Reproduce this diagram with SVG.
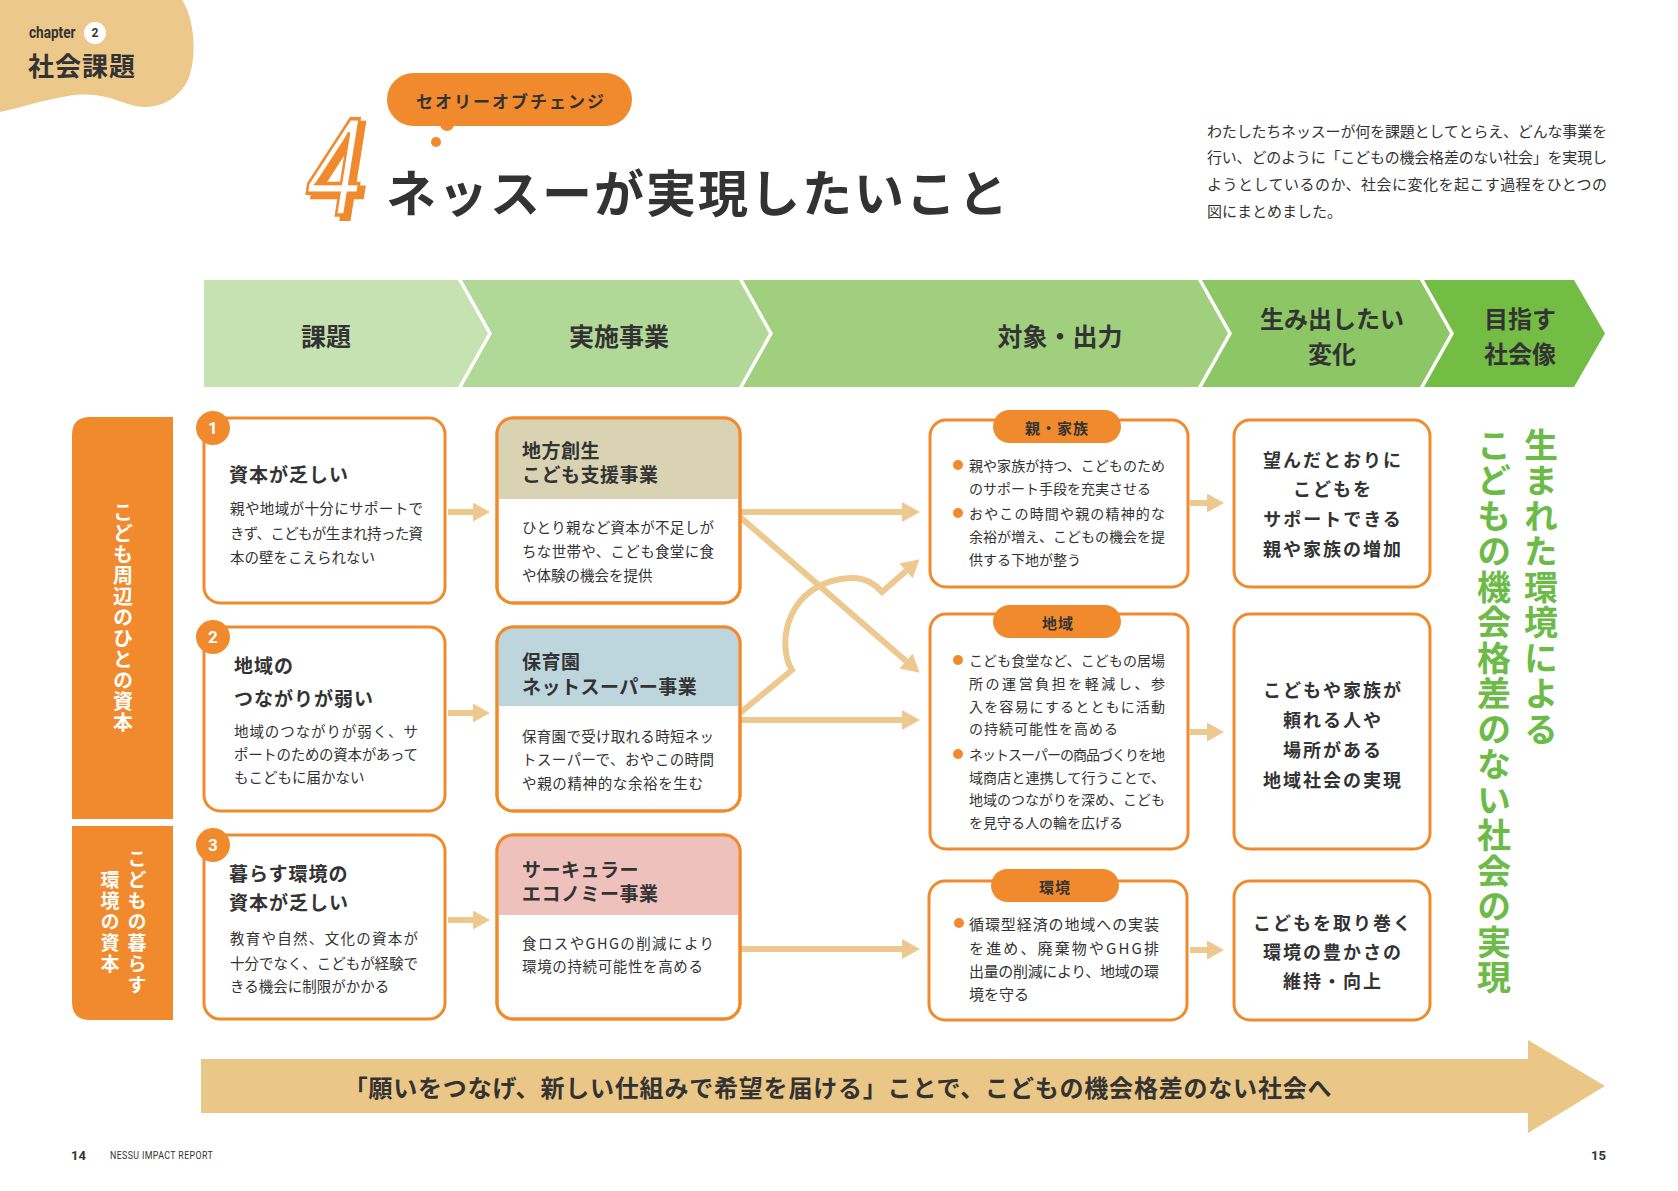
<svg xmlns="http://www.w3.org/2000/svg" width="1678" height="1191" viewBox="0 0 1678 1191">
<style>
text { font-family: "Noto Sans CJK JP", "Noto Sans", sans-serif; fill: #333333; }
.hd { font-size: 25px; font-weight: 700; text-anchor: middle; dominant-baseline: central; }
.box { fill: #ffffff; stroke: #F18A2C; stroke-width: 3; }
.frame { fill: none; stroke: #F18A2C; stroke-width: 3; }
.body { font-size: 14.5px; dominant-baseline: central; }
.t1 { font-size: 19px; font-weight: 700; dominant-baseline: central; letter-spacing: 1px; }
.c3 { font-size: 14px; dominant-baseline: central; }
.c4 { font-size: 18px; font-weight: 700; text-anchor: middle; dominant-baseline: central; letter-spacing: 2px; }
.pill { fill: #F18A2C; }
.pt { font-size: 15px; font-weight: 700; text-anchor: middle; dominant-baseline: central; letter-spacing: 1px; }
.dot { fill: #F18A2C; }
.con { fill: none; stroke: #EDC98F; stroke-width: 6; }
.num { fill: #F18A2C; }
.nt { fill: #ffffff; font-family: "Roboto", "Liberation Sans", sans-serif; font-weight: 700; font-size: 17px; text-anchor: middle; dominant-baseline: central; }
.vt { writing-mode: vertical-rl; text-orientation: upright; }
.side { fill: #F18A2C; }
.sidet { fill: #ffffff; font-weight: 700; }
.green { fill: #6CBB47; font-size: 34px; font-weight: 700; letter-spacing: 1.5px; }
</style>
<defs>
<marker id="ah" markerUnits="userSpaceOnUse" markerWidth="18" markerHeight="20" viewBox="0 0 18 20" refX="0" refY="10" orient="auto">
<path d="M0,0 L18,10 L0,20 Z" fill="#EDC98F"/>
</marker>
<marker id="ahs" markerUnits="userSpaceOnUse" markerWidth="17" markerHeight="19" viewBox="0 0 17 19" refX="0" refY="9.5" orient="auto">
<path d="M0,0 L17,9.5 L0,19 Z" fill="#EDC98F"/>
</marker>
</defs>

<!-- page header -->
<g id="chapter">
<path d="M0,0 H182 C194,18 198,55 188,80 C176,104 150,112 128,104 C108,97 92,92 68,96 C42,100 20,108 0,112 Z" fill="#EDC88B"/>
<text x="29" y="33" transform="translate(29 0) scale(0.85 1) translate(-29 0)" style="font-family: Roboto, 'Liberation Sans', sans-serif; font-size: 16px; font-weight: 700; dominant-baseline: central;">chapter</text>
<circle cx="95" cy="33" r="11" fill="#ffffff"/>
<text x="95" y="33" style="font-family: Roboto, 'Liberation Sans', sans-serif; font-size: 12px; font-weight: 700; text-anchor: middle; dominant-baseline: central;">2</text>
<text x="28" y="64" style="font-size: 26px; font-weight: 700; dominant-baseline: central; letter-spacing: 1px;">社会課題</text>
</g>

<g id="title">
<rect x="387" y="73" width="245" height="53" rx="26.5" fill="#F18A2C"/>
<circle cx="447" cy="124" r="7" fill="#F18A2C"/>
<circle cx="436" cy="142" r="5" fill="#F18A2C"/>
<text x="511" y="100" style="font-size: 17px; font-weight: 700; text-anchor: middle; dominant-baseline: central; letter-spacing: 2px;">セオリーオブチェンジ</text>
<text x="0" y="0" transform="translate(306 219) skewX(-9) scale(0.72 1)" style="font-family: 'Liberation Sans', sans-serif; font-size: 140px; fill: #F18A2C; stroke: #F18A2C; stroke-width: 4;">4</text>
<text x="0" y="0" transform="translate(301 215) skewX(-9) scale(0.72 1)" style="font-family: 'Liberation Sans', sans-serif; font-size: 140px; fill: #ffffff; stroke: #F18A2C; stroke-width: 3.5;">4</text>
<text x="386" y="190" style="font-size: 50px; font-weight: 700; dominant-baseline: central; letter-spacing: 2px;">ネッスーが実現したいこと</text>
</g>

<g id="description">
<text x="1207" y="130" class="body" style="font-size: 15px;" textLength="400" lengthAdjust="spacing">わたしたちネッスーが何を課題としてとらえ、どんな事業を</text>
<text x="1207" y="156" class="body" style="font-size: 15px;" textLength="400" lengthAdjust="spacing">行い、どのように「こどもの機会格差のない社会」を実現し</text>
<text x="1207" y="183" class="body" style="font-size: 15px;" textLength="400" lengthAdjust="spacing">ようとしているのか、社会に変化を起こす過程をひとつの</text>
<text x="1207" y="210" class="body" style="font-size: 15px;">図にまとめました。</text>
</g>

<!-- column header chevrons -->
<g id="header-kadai">
<polygon points="204,280 458,280 488,333.5 458,387 204,387" fill="#C6E2B0"/>
<text x="326" y="335" class="hd">課題</text>
</g>
<g id="header-jigyo">
<polygon points="462,280 739,280 769,333.5 739,387 462,387 492,333.5" fill="#B2D898"/>
<text x="619" y="335" class="hd">実施事業</text>
</g>
<g id="header-taisho">
<polygon points="743,280 1198,280 1228,333.5 1198,387 743,387 773,333.5" fill="#A0CF7E"/>
<text x="1060" y="335" class="hd">対象・出力</text>
</g>
<g id="header-henka">
<polygon points="1202,280 1420,280 1450,333.5 1420,387 1202,387 1232,333.5" fill="#8CC665"/>
<text x="1332" y="317" class="hd" style="font-size: 24px;">生み出したい</text>
<text x="1332" y="352" class="hd" style="font-size: 24px;">変化</text>
</g>
<g id="header-shakai">
<polygon points="1424,280 1574,280 1605,333.5 1574,387 1424,387 1454,333.5" fill="#73BD44"/>
<text x="1520" y="317" class="hd" style="font-size: 24px;">目指す</text>
<text x="1520" y="352" class="hd" style="font-size: 24px;">社会像</text>
</g>

<!-- side bars -->
<g id="side-hito">
<path d="M72,819 V435 Q72,417 90,417 H173 V819 Z" class="side"/>
<text x="123" y="618" class="vt sidet" style="font-size: 20px; text-anchor: middle; letter-spacing: 1px;">こども周辺のひとの資本</text>
</g>
<g id="side-kankyo">
<path d="M72,826 H173 V1020 H90 Q72,1020 72,1002 Z" class="side"/>
<text x="137" y="923" class="vt sidet" style="font-size: 19px; text-anchor: middle; letter-spacing: 2px;">こどもの暮らす</text>
<text x="110" y="923" class="vt sidet" style="font-size: 19px; text-anchor: middle; letter-spacing: 2px;">環境の資本</text>
</g>

<!-- connectors -->
<g id="connectors">
<path d="M448,512 H473" class="con" stroke-width="7" marker-end="url(#ahs)"/>
<path d="M448,713 H473" class="con" stroke-width="7" marker-end="url(#ahs)"/>
<path d="M448,920 H473" class="con" stroke-width="7" marker-end="url(#ahs)"/>
<path d="M740,512 H902" class="con" marker-end="url(#ah)"/>
<path d="M740,517 L906,661" class="con" marker-end="url(#ah)"/>
<path d="M740,713 L792,670 C776,645 786,582 850,578 C866,577 876,585 882,592 L906,571" class="con" marker-end="url(#ah)"/>
<path d="M740,720 H902" class="con" marker-end="url(#ah)"/>
<path d="M740,949 H902" class="con" marker-end="url(#ah)"/>
<path d="M1190,503 H1207" class="con" stroke-width="7" marker-end="url(#ahs)"/>
<path d="M1190,732 H1207" class="con" stroke-width="7" marker-end="url(#ahs)"/>
<path d="M1190,950 H1207" class="con" stroke-width="7" marker-end="url(#ahs)"/>
</g>

<!-- column 1: issues -->
<g id="issue-1">
<rect x="204" y="418" width="241" height="185" rx="16" class="box"/>
<circle cx="213" cy="428" r="17" class="num"/>
<text x="213" y="428" class="nt">1</text>
<text x="229" y="473" class="t1">資本が乏しい</text>
<text x="230" y="507" class="body" textLength="193" lengthAdjust="spacing">親や地域が十分にサポートで</text>
<text x="230" y="532" class="body" textLength="193" lengthAdjust="spacing">きず、こどもが生まれ持った資</text>
<text x="230" y="556" class="body">本の壁をこえられない</text>
</g>
<g id="issue-2">
<rect x="204" y="627" width="241" height="184" rx="16" class="box"/>
<circle cx="213" cy="637" r="17" class="num"/>
<text x="213" y="637" class="nt">2</text>
<text x="234" y="664" class="t1">地域の</text>
<text x="234" y="697" class="t1">つながりが弱い</text>
<text x="234" y="730" class="body" textLength="184" lengthAdjust="spacing">地域のつながりが弱く、サ</text>
<text x="234" y="753" class="body" textLength="184" lengthAdjust="spacing">ポートのための資本があって</text>
<text x="234" y="776" class="body">もこどもに届かない</text>
</g>
<g id="issue-3">
<rect x="204" y="835" width="241" height="184" rx="16" class="box"/>
<circle cx="213" cy="845" r="17" class="num"/>
<text x="213" y="845" class="nt">3</text>
<text x="229" y="872" class="t1">暮らす環境の</text>
<text x="229" y="901" class="t1">資本が乏しい</text>
<text x="230" y="937" class="body" textLength="188" lengthAdjust="spacing">教育や自然、文化の資本が</text>
<text x="230" y="962" class="body" textLength="188" lengthAdjust="spacing">十分でなく、こどもが経験で</text>
<text x="230" y="985" class="body">きる機会に制限がかかる</text>
</g>

<!-- column 2: programs -->
<g id="program-chiho">
<rect x="497" y="418" width="243" height="185" rx="16" class="box"/>
<path d="M497,499 V434 A16,16 0 0 1 513,418 H724 A16,16 0 0 1 740,434 V499 Z" fill="#D9D3B3"/>
<rect x="497" y="418" width="243" height="185" rx="16" class="frame"/>
<text x="522" y="449" class="t1" style="letter-spacing: 0.5px;">地方創生</text>
<text x="522" y="473" class="t1" style="letter-spacing: 0.5px;">こども支援事業</text>
<text x="522" y="526" class="body" textLength="192" lengthAdjust="spacing">ひとり親など資本が不足しが</text>
<text x="522" y="550" class="body" textLength="192" lengthAdjust="spacing">ちな世帯や、こども食堂に食</text>
<text x="522" y="574" class="body">や体験の機会を提供</text>
</g>
<g id="program-hoikuen">
<rect x="497" y="627" width="243" height="184" rx="16" class="box"/>
<path d="M497,706 V643 A16,16 0 0 1 513,627 H724 A16,16 0 0 1 740,643 V706 Z" fill="#BDD6DD"/>
<rect x="497" y="627" width="243" height="184" rx="16" class="frame"/>
<text x="522" y="660" class="t1" style="letter-spacing: 0.5px;">保育園</text>
<text x="522" y="685" class="t1" style="letter-spacing: 0.5px;">ネットスーパー事業</text>
<text x="522" y="735" class="body" textLength="192" lengthAdjust="spacing">保育園で受け取れる時短ネッ</text>
<text x="522" y="758" class="body" textLength="192" lengthAdjust="spacing">トスーパーで、おやこの時間</text>
<text x="522" y="782" class="body" textLength="181" lengthAdjust="spacing">や親の精神的な余裕を生む</text>
</g>
<g id="program-circular">
<rect x="497" y="835" width="243" height="184" rx="16" class="box"/>
<path d="M497,915 V851 A16,16 0 0 1 513,835 H724 A16,16 0 0 1 740,851 V915 Z" fill="#EEC1BC"/>
<rect x="497" y="835" width="243" height="184" rx="16" class="frame"/>
<text x="522" y="868" class="t1" style="letter-spacing: 0.5px;">サーキュラー</text>
<text x="522" y="892" class="t1" style="letter-spacing: 0.5px;">エコノミー事業</text>
<text x="522" y="942" class="body" textLength="192" lengthAdjust="spacing">食ロスやGHGの削減により</text>
<text x="522" y="965" class="body" textLength="181" lengthAdjust="spacing">環境の持続可能性を高める</text>
</g>

<!-- column 3: targets / outputs -->
<g id="output-family">
<rect x="930" y="420" width="258" height="167" rx="16" class="box"/>
<rect x="993" y="410" width="128" height="33" rx="16.5" class="pill"/>
<text x="1057" y="427" class="pt">親・家族</text>
<circle cx="958" cy="465" r="5" class="dot"/>
<text x="969" y="465" class="c3" textLength="196" lengthAdjust="spacing">親や家族が持つ、こどものため</text>
<text x="969" y="488" class="c3">のサポート手段を充実させる</text>
<circle cx="958" cy="513" r="5" class="dot"/>
<text x="969" y="513" class="c3" textLength="196" lengthAdjust="spacing">おやこの時間や親の精神的な</text>
<text x="969" y="536" class="c3" textLength="196" lengthAdjust="spacing">余裕が増え、こどもの機会を提</text>
<text x="969" y="559" class="c3">供する下地が整う</text>
</g>
<g id="output-region">
<rect x="930" y="614" width="258" height="235" rx="16" class="box"/>
<rect x="993" y="605" width="128" height="33" rx="16.5" class="pill"/>
<text x="1058" y="622" class="pt">地域</text>
<circle cx="958" cy="660" r="5" class="dot"/>
<text x="969" y="660" class="c3" textLength="196" lengthAdjust="spacing">こども食堂など、こどもの居場</text>
<text x="969" y="683" class="c3" textLength="196" lengthAdjust="spacing">所の運営負担を軽減し、参</text>
<text x="969" y="706" class="c3" textLength="196" lengthAdjust="spacing">入を容易にするとともに活動</text>
<text x="969" y="728" class="c3" style="letter-spacing: 1px;">の持続可能性を高める</text>
<circle cx="958" cy="754" r="5" class="dot"/>
<text x="969" y="754" class="c3" textLength="196" lengthAdjust="spacing">ネットスーパーの商品づくりを地</text>
<text x="969" y="777" class="c3" textLength="196" lengthAdjust="spacing">域商店と連携して行うことで、</text>
<text x="969" y="799" class="c3" textLength="196" lengthAdjust="spacing">地域のつながりを深め、こども</text>
<text x="969" y="822" class="c3">を見守る人の輪を広げる</text>
</g>
<g id="output-environment">
<rect x="929" y="881" width="258" height="139" rx="16" class="box"/>
<rect x="991" y="869" width="128" height="33" rx="16.5" class="pill"/>
<text x="1055" y="886" class="pt">環境</text>
<circle cx="959" cy="923" r="5" class="dot"/>
<text x="969" y="923" class="c3" style="font-size: 15px;" textLength="190" lengthAdjust="spacing">循環型経済の地域への実装</text>
<text x="969" y="947" class="c3" style="font-size: 15px;" textLength="190" lengthAdjust="spacing">を進め、廃棄物やGHG排</text>
<text x="969" y="970" class="c3" style="font-size: 15px;" textLength="190" lengthAdjust="spacing">出量の削減により、地域の環</text>
<text x="969" y="993" class="c3" style="font-size: 15px;">境を守る</text>
</g>

<!-- column 4: changes -->
<g id="change-family">
<rect x="1234" y="420" width="196" height="167" rx="16" class="box"/>
<text x="1333" y="459" class="c4">望んだとおりに</text>
<text x="1333" y="488" class="c4">こどもを</text>
<text x="1333" y="518" class="c4">サポートできる</text>
<text x="1333" y="548" class="c4">親や家族の増加</text>
</g>
<g id="change-region">
<rect x="1234" y="614" width="196" height="235" rx="16" class="box"/>
<text x="1333" y="689" class="c4">こどもや家族が</text>
<text x="1333" y="719" class="c4">頼れる人や</text>
<text x="1333" y="749" class="c4">場所がある</text>
<text x="1333" y="779" class="c4">地域社会の実現</text>
</g>
<g id="change-environment">
<rect x="1234" y="881" width="196" height="139" rx="16" class="box"/>
<text x="1333" y="922" class="c4">こどもを取り巻く</text>
<text x="1333" y="951" class="c4">環境の豊かさの</text>
<text x="1333" y="980" class="c4">維持・向上</text>
</g>

<!-- column 5: vision -->
<g id="vision">
<text x="1541" y="428" class="vt green">生まれた環境による</text>
<text x="1494" y="428" class="vt green">こどもの機会格差のない社会の実現</text>
</g>

<!-- bottom banner -->
<g id="banner">
<path d="M201,1059 H1528 V1040 L1605,1086 L1528,1133 V1113 H201 Z" fill="#EBC787"/>
<text x="838" y="1086" style="font-size: 24px; font-weight: 700; text-anchor: middle; dominant-baseline: central; letter-spacing: 0.8px;">「願いをつなげ、新しい仕組みで希望を届ける」ことで、こどもの機会格差のない社会へ</text>
</g>

<!-- footer -->
<g id="footer">
<text x="71" y="1155" style="font-family: Roboto, 'Liberation Sans', sans-serif; font-size: 13px; font-weight: 700; dominant-baseline: central;">14</text>
<text x="110" y="1155" transform="translate(110 0) scale(0.8 1) translate(-110 0)" style="font-family: Roboto, 'Liberation Sans', sans-serif; font-size: 11px; dominant-baseline: central; letter-spacing: 0.5px;">NESSU IMPACT REPORT</text>
<text x="1606" y="1155" style="font-family: Roboto, 'Liberation Sans', sans-serif; font-size: 13px; font-weight: 700; text-anchor: end; dominant-baseline: central;">15</text>
</g>
</svg>
